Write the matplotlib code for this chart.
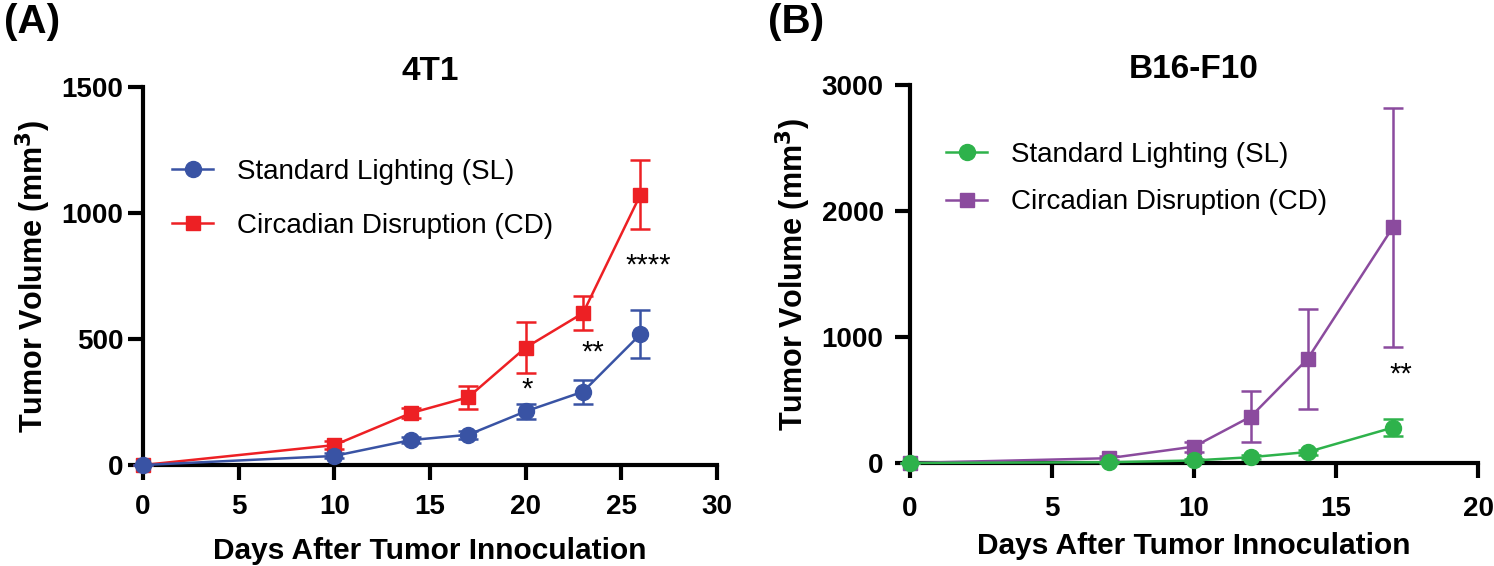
import matplotlib
matplotlib.use('Agg')
import matplotlib.pyplot as plt
from matplotlib.lines import Line2D

plt.rcParams['font.family'] = ['Liberation Sans', 'DejaVu Sans']

# Panel A: 4T1
days_a = [0, 10, 14, 17, 20, 23, 26]
sl_a = [0, 36, 99, 120, 213, 291, 519]
sl_a_err = [0, 10, 12, 15, 30, 48, 95]
cd_a = [0, 79, 206, 269, 466, 603, 1073]
cd_a_err = [0, 15, 20, 45, 100, 67, 138]
stars_a = [(20.1, 300, '*'), (23.5, 445, '**'), (26.4, 790, '****')]

# Panel B: B16-F10
days_b = [0, 7, 10, 12, 14, 17]
sl_b = [0, 6, 20, 46, 87, 281]
sl_b_err = [0, 5, 10, 15, 20, 65]
cd_b = [0, 38, 130, 368, 826, 1870]
cd_b_err = [0, 15, 40, 200, 400, 950]
stars_b = [(17.3, 700, '**')]

labels = ['Standard Lighting (SL)', 'Circadian Disruption (CD)']

fig = plt.figure(figsize=(14.94, 5.66), dpi=100)
ax_a = fig.add_axes([0.0957, 0.1784, 0.3842, 0.6678])
ax_b = fig.add_axes([0.6091, 0.182, 0.3802, 0.6678])


def draw_panel(ax, days, sl, sl_err, cd, cd_err, c_sl, c_cd, xmax, ymax, xstep, ystep,
               title, stars, leg_anchor, leg_space, ypad, xpad, xlabpad):
    ax.errorbar(days, sl, yerr=sl_err, fmt='-o', color=c_sl, ms=11.5, lw=1.8,
                elinewidth=1.8, capsize=7, capthick=1.8, clip_on=False, zorder=4)
    ax.errorbar(days, cd, yerr=cd_err, fmt='-s', color=c_cd, ms=10.5, lw=1.8,
                elinewidth=1.8, capsize=7, capthick=1.8, clip_on=False, zorder=3)
    ax.set_xlim(0, xmax)
    ax.set_ylim(0, ymax)
    ax.set_xticks(range(0, xmax + 1, xstep))
    ax.set_yticks(range(0, ymax + 1, ystep))
    for s in ['top', 'right']:
        ax.spines[s].set_visible(False)
    for s in ['left', 'bottom']:
        ax.spines[s].set_linewidth(3)
    ax.tick_params(width=3, length=11, labelsize=20)
    ax.tick_params(axis='y', pad=ypad)
    ax.tick_params(axis='x', pad=xpad)
    for lab in ax.get_xticklabels() + ax.get_yticklabels():
        lab.set_fontweight('bold')
    ax.set_xlabel('Days After Tumor Innoculation', fontsize=21.5, fontweight='bold',
                  labelpad=xlabpad)
    ax.set_ylabel('Tumor Volume (mm$^\\mathbf{3}$)', fontsize=22, fontweight='bold', labelpad=6)
    ax.set_title(title, fontsize=24, fontweight='bold', pad=3)
    for x, y, t in stars:
        ax.text(x, y, t, fontsize=21, ha='center', va='center')
    handles = [Line2D([], [], color=c_sl, marker='o', ms=11.5, lw=1.8),
               Line2D([], [], color=c_cd, marker='s', ms=10.5, lw=1.8)]
    ax.legend(handles, labels, loc='upper left', bbox_to_anchor=leg_anchor, frameon=False,
              fontsize=20, handlelength=1.5, handletextpad=0.85, labelspacing=leg_space,
              borderpad=0, borderaxespad=0)


draw_panel(ax_a, days_a, sl_a, sl_a_err, cd_a, cd_a_err, '#3953A4', '#ED2024',
           30, 1500, 5, 500, '4T1', stars_a, (0.05, 0.81), 1.0, 3, 10, 12)
draw_panel(ax_b, days_b, sl_b, sl_b_err, cd_b, cd_b_err, '#2EB24B', '#8B4B9E',
           20, 3000, 5, 1000, 'B16-F10', stars_b, (0.063, 0.85), 0.78, 8, 13, 7)

fig.text(0.003, 0.995, '(A)', fontsize=29, fontweight='bold', va='top', ha='left')
fig.text(0.514, 0.995, '(B)', fontsize=29, fontweight='bold', va='top', ha='left')

fig.savefig('out.png', dpi=100)
